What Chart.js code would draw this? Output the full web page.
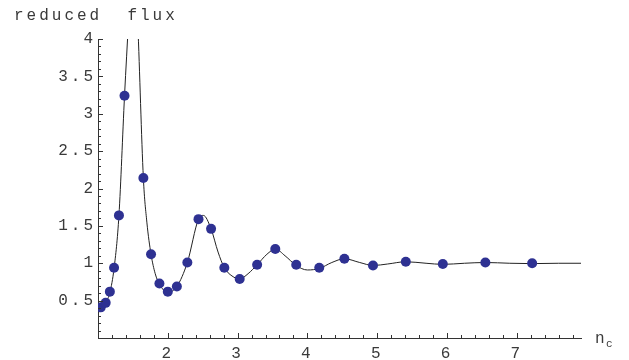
<!DOCTYPE html>
<html>
<head>
<meta charset="utf-8">
<script src="https://cdn.jsdelivr.net/npm/chart.js@4"></script>
<style>
  html, body { margin: 0; padding: 0; background: #fff; }
  #wrap { width: 629px; height: 360px; }
</style>
</head>
<body>
<div id="wrap"><canvas id="fluxChart" width="629" height="360"></canvas></div>
<script>
// measured points (n_c, reduced flux)
const pointX = [1.04, 1.11, 1.17, 1.23, 1.30, 1.38, 1.65, 1.76, 1.88, 2.00, 2.13, 2.28, 2.44, 2.62,
                2.81, 3.03, 3.28, 3.54, 3.84, 4.17, 4.53, 4.94, 5.41, 5.94, 6.55, 7.22];
const pointY = [0.41, 0.47, 0.62, 0.94, 1.64, 3.24, 2.14, 1.12, 0.73, 0.62, 0.69, 1.01, 1.59, 1.46,
                0.94, 0.79, 0.98, 1.19, 0.98, 0.94, 1.06, 0.97, 1.02, 0.99, 1.01, 1.00];

// smooth curve (goes off the top near n_c = 1.5)
const curveX = [1.00, 1.04, 1.11, 1.17, 1.23, 1.30, 1.38, 1.44, 1.50, 1.57, 1.65, 1.70, 1.76, 1.82,
                1.88, 2.00, 2.13, 2.28, 2.44, 2.51, 2.62, 2.72, 2.81, 2.92, 3.03, 3.15, 3.28, 3.42,
                3.54, 3.68, 3.84, 4.00, 4.17, 4.35, 4.53, 4.75, 4.94, 5.15, 5.41, 5.70, 5.94, 6.25,
                6.55, 6.90, 7.22, 7.60, 7.92];
const curveY = [0.38, 0.41, 0.47, 0.61, 0.93, 1.64, 3.24, 4.30, 5.50, 4.20, 2.14, 1.55, 1.12, 0.86,
                0.72, 0.61, 0.69, 1.01, 1.59, 1.64, 1.46, 1.15, 0.94, 0.83, 0.79, 0.86, 0.98, 1.12,
                1.19, 1.10, 0.97, 0.91, 0.93, 1.01, 1.06, 1.01, 0.97, 0.99, 1.02, 1.00, 0.985, 1.00,
                1.01, 1.00, 0.995, 1.00, 1.00];

const xTicks = [2, 3, 4, 5, 6, 7];
const yTicks = [0.5, 1, 1.5, 2, 2.5, 3, 3.5, 4];
const xRange = [1, 7.92];
const yRange = [0, 4];

const textColor = '#3a3a3a';
const monoFont = '"Liberation Mono", "DejaVu Sans Mono", monospace';

function toXY(xs, ys) {
  return xs.map((x, i) => ({ x: x, y: ys[i] }));
}

// Mathematica-like axes: inward major/minor ticks, title and n_c label
const axisDecor = {
  id: 'axisDecor',
  beforeDraw(chart) {
    chart.ctx.letterSpacing = '3px';
  },
  afterDraw(chart) {
    const ctx = chart.ctx;
    const xs = chart.scales.x, ys = chart.scales.y;
    const x0 = xs.left, y0 = ys.bottom;
    ctx.save();
    ctx.strokeStyle = '#333';
    ctx.lineWidth = 1;
    ctx.beginPath();
    // y ticks every 0.1
    for (let i = 1; i <= 40; i++) {
      const v = i / 10;
      const py = Math.round(ys.getPixelForValue(v)) + 0.5;
      const len = (i % 5 === 0) ? 5 : 3;
      ctx.moveTo(x0, py);
      ctx.lineTo(x0 + len, py);
    }
    // x ticks every 0.2
    for (let i = 1; i <= 34; i++) {
      const v = 1 + i * 0.2;
      if (v > xRange[1] + 1e-6) break;
      const px = Math.round(xs.getPixelForValue(v)) + 0.5;
      const len = (i % 5 === 0) ? 5 : 3;
      ctx.moveTo(px, y0);
      ctx.lineTo(px, y0 - len);
    }
    ctx.stroke();

    ctx.fillStyle = textColor;
    ctx.letterSpacing = '3px';
    ctx.font = '16px ' + monoFont;
    ctx.textBaseline = 'alphabetic';
    ctx.textAlign = 'left';
    ctx.fillText('reduced  flux', 14, 20);
    ctx.letterSpacing = '0px';
    ctx.font = '16px ' + monoFont;
    ctx.fillText('n', 595, 343);
    ctx.font = '11px ' + monoFont;
    ctx.fillText('c', 606, 347);
    ctx.restore();
  }
};

new Chart(document.getElementById('fluxChart'), {
  type: 'scatter',
  data: {
    datasets: [
      {
        label: 'points',
        data: toXY(pointX, pointY),
        pointRadius: 5,
        pointHoverRadius: 5,
        backgroundColor: '#2e3192',
        borderWidth: 0,
        order: 0
      },
      {
        label: 'curve',
        data: toXY(curveX, curveY),
        showLine: true,
        pointRadius: 0,
        borderColor: '#222',
        borderWidth: 1,
        cubicInterpolationMode: 'monotone',
        order: 1
      }
    ]
  },
  options: {
    responsive: false,
    animation: false,
    devicePixelRatio: 1,
    layout: { padding: { left: 0, top: 39, right: 48, bottom: 0 } },
    plugins: { legend: { display: false }, tooltip: { enabled: false } },
    scales: {
      x: {
        type: 'linear',
        min: xRange[0],
        max: xRange[1],
        afterBuildTicks: (scale) => { scale.ticks = xTicks.map(v => ({ value: v })); },
        afterFit: (scale) => { scale.height = 22; },
        grid: { display: false, drawTicks: false },
        border: { display: true, color: '#333', width: 1 },
        ticks: { color: textColor, padding: 6, maxRotation: 0, autoSkip: false,
                 callback: (v) => String(v),
                 font: { family: monoFont, size: 16 } }
      },
      y: {
        type: 'linear',
        min: yRange[0],
        max: yRange[1],
        afterBuildTicks: (scale) => { scale.ticks = yTicks.map(v => ({ value: v })); },
        afterFit: (scale) => { scale.width = 98; },
        grid: { display: false, drawTicks: false },
        border: { display: true, color: '#333', width: 1 },
        ticks: { color: textColor, padding: 2, autoSkip: false,
                 callback: (v) => String(v),
                 font: { family: monoFont, size: 16 } }
      }
    }
  },
  plugins: [axisDecor]
});
</script>
</body>
</html>
